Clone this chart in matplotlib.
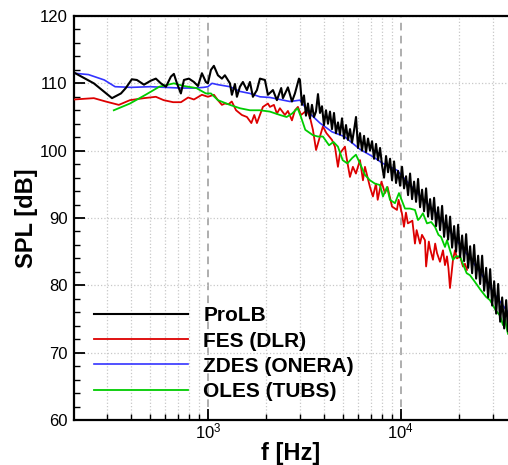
import numpy as np
import matplotlib
matplotlib.use('Agg')
import matplotlib.pyplot as plt
from matplotlib.ticker import LogLocator, MultipleLocator, NullFormatter

plt.rcParams['font.family'] = ['Liberation Sans', 'DejaVu Sans']
plt.rcParams['mathtext.fontset'] = 'custom'
plt.rcParams['mathtext.rm'] = 'Liberation Sans'
plt.rcParams['mathtext.it'] = 'Liberation Sans:italic'

# ProLB
f_prolb = [202, 256, 318, 354, 375, 403, 428, 466, 506, 537, 570, 606, 643, 666, 691, 724, 751,
           797, 846, 888, 931, 976, 1000, 1037, 1074, 1127, 1182, 1225, 1301, 1332, 1381, 1414,
           1466, 1519, 1594, 1652, 1712, 1796, 1862, 1976, 2048, 2175, 2280, 2400, 2450, 2601,
           2729, 2828, 2967,
           3003, 3076, 3150, 3226, 3304, 3384, 3466, 3550, 3636, 3724, 3814, 3906, 4001, 4098,
           4197, 4299, 4403, 4509, 4618, 4730, 4844, 4962, 5082, 5205, 5331, 5460, 5592, 5727,
           5866, 6008, 6153, 6302, 6455, 6611, 6771, 6935, 7103, 7275, 7451, 7631, 7816, 8005,
           8199, 8397, 8600, 8808, 9022, 9240, 9464, 9693, 9927, 10167, 10414, 10666, 10924,
           11188, 11459, 11736, 12020, 12311, 12609, 12914, 13227, 13547, 13875, 14211, 14555,
           14907, 15268, 15637, 16016, 16403, 16800, 17207, 17623, 18050, 18487, 18934, 19392,
           19862, 20342, 20835, 21339, 21855, 22384, 22926, 23481, 24049, 24631, 25227, 25838,
           26463, 27104, 27760, 28432, 29120, 29824, 30546, 31286, 32043, 32818, 33612, 34426,
           35259, 36040]
spl_prolb = [111.6, 110.0, 107.8, 108.5, 109.3, 110.6, 110.5, 109.8, 110.4, 110.7, 110.0, 109.5,
             111.0, 111.4, 110.0, 108.5, 110.5, 110.7, 110.2, 109.6, 111.5, 110.2, 110.0, 112.0,
             112.6, 111.2, 110.7, 111.2, 110.0, 108.3, 109.9, 108.0, 109.5, 110.2, 109.0, 110.2,
             108.0, 109.0, 110.7, 110.5, 108.3, 109.0, 107.5, 109.3, 107.8, 109.4, 107.3, 108.5,
             110.7,
             110.5, 106.8, 108.2, 105.2, 107.0, 104.8, 106.8, 105.0, 105.8, 108.4, 105.6, 106.6,
             103.8, 106.0, 104.0, 105.8, 103.2, 105.6, 102.6, 104.2, 102.4, 104.8, 101.8, 103.8,
             101.6, 103.2, 101.2, 103.0, 105.0, 100.4, 102.6, 100.0, 102.2, 99.8, 101.8, 100.0,
             101.4, 98.8, 101.0, 98.6, 100.4, 97.8, 96.0, 99.2, 96.8, 98.8, 95.6, 98.4, 95.2, 97.0,
             94.8, 97.6, 94.4, 96.2, 93.4, 96.6, 92.8, 95.4, 92.4, 95.8, 91.6, 94.2, 91.0, 94.4,
             90.2, 92.8, 89.8, 93.0, 88.8, 91.6, 88.2, 91.8, 87.2, 90.4, 86.8, 90.2, 85.6, 88.8,
             85.0, 89.0, 84.2, 87.4, 83.6, 87.6, 82.6, 85.8, 81.8, 86.0, 81.0, 84.4, 80.2, 84.4,
             79.2, 82.6, 78.2, 82.4, 77.0, 80.6, 75.8, 80.2, 74.6, 78.2, 73.6, 77.8, 73.2]

# FES (DLR)
f_fes = [202, 256, 295, 345, 394, 466, 537, 590, 660, 725, 790, 846, 931, 1000, 1075, 1127, 1182,
         1225, 1280, 1330, 1400, 1500, 1594, 1680, 1740, 1796, 1929, 2048, 2098, 2200, 2280, 2363,
         2509, 2601, 2729, 2828, 2930, 3040, 3264, 3382, 3506, 3640, 3813, 3950, 4120, 4401, 4560,
         4726, 4842, 5138, 5230, 5456, 5650, 5860, 6150, 6373, 6528, 6929, 7180, 7445, 7600, 7950,
         8289, 8550, 9020, 9566, 9750, 10150, 10400, 10650, 10900, 11500, 11860, 12100, 12600,
         12900, 13366, 13550, 14000, 14190, 14708, 15100, 15430, 15993, 16576, 16978, 17388,
         17700, 18023, 18400, 18680, 19133, 19595, 20310, 21051, 21560, 22083]
spl_fes = [107.6, 107.8, 107.3, 106.8, 107.5, 107.8, 108.0, 107.5, 107.2, 107.2, 107.9, 107.6,
           108.3, 108.0, 108.3, 107.5, 106.8, 107.0, 106.9, 107.3, 106.0, 105.3, 105.0, 104.1,
           105.3, 104.1, 106.5, 107.0, 106.5, 106.8, 105.5, 106.3, 105.3, 105.9, 104.5, 106.0,
           106.5, 105.3, 106.0, 105.0, 103.1, 100.1, 102.1, 103.6, 102.6, 101.6, 100.6, 97.6, 99.6,
           100.6, 99.1, 96.1, 97.6, 96.6, 98.6, 95.6, 97.6, 94.6, 93.2, 95.1, 92.7, 95.4, 93.7,
           94.6, 91.7, 91.2, 92.7, 90.7, 88.7, 90.8, 89.2, 89.6, 86.2, 88.2, 86.2, 87.5, 86.7,
           82.8, 86.5, 85.5, 83.8, 86.2, 84.8, 83.5, 85.2, 83.0, 84.3, 82.5, 79.6, 82.0, 83.8,
           85.2, 84.0, 84.3, 82.8, 83.2, 82.3]

# ZDES (ONERA)
f_zdes = [202, 240, 290, 330, 400, 500, 600, 720, 850, 950, 1000, 1050, 1127, 1301, 1466, 1652,
          1862, 2098, 2363, 2664, 3003, 3382, 3813, 4401, 5100, 6150, 7180, 8093, 9566, 10500,
          12590, 15000, 18023, 21560, 25790, 30120, 36040]
spl_zdes = [111.5, 111.3, 110.5, 109.5, 109.4, 109.5, 109.4, 109.3, 109.3, 109.4, 109.5, 110.0,
            109.8, 109.5, 108.8, 108.5, 108.0, 107.9, 107.6, 107.3, 107.5, 105.5, 104.1, 102.8,
            102.1, 100.2, 99.1, 98.1, 97.1, 95.8, 93.3, 91.0, 88.0, 85.0, 82.0, 79.0, 76.0]

# OLES (TUBS)
f_oles = [325, 394, 475, 560, 666, 751, 870, 976, 1037, 1127, 1301, 1466, 1652, 1862, 2098, 2363,
          2560, 2729, 2920, 3040, 3200, 3506, 3720, 3950, 4250, 4480, 4726, 5000, 5290, 5600,
          5860, 6150, 6528, 6929, 7357, 7808, 8093, 8490, 8800, 9341, 9800, 10525, 11172, 11860,
          12300, 12590, 13048, 13690, 14400, 15064, 15700, 16200, 16978, 17388, 18023, 18680,
          19400, 20310, 21300, 22000, 22888, 24290, 26000, 27700, 29060, 31100, 32750, 33940,
          34760, 35610, 36040]
spl_oles = [106.0, 107.0, 108.3, 109.5, 110.0, 109.6, 109.3, 108.5, 108.5, 107.5, 106.8, 106.3,
            106.0, 106.0, 105.8, 105.3, 105.0, 105.5, 106.3, 105.0, 103.1, 102.3, 102.1, 102.1,
            100.8, 101.3, 100.6, 98.6, 98.1, 98.9, 99.4, 98.1, 96.4, 95.6, 95.1, 94.9, 93.2, 94.6,
            92.7, 92.2, 93.7, 91.4, 91.4, 91.2, 89.7, 90.0, 90.7, 89.2, 89.4, 88.7, 87.5, 87.2,
            85.7, 86.7, 85.2, 83.8, 84.3, 84.3, 82.8, 81.8, 81.5, 80.5, 79.3, 78.3, 77.8, 76.3,
            75.5, 74.1, 75.0, 73.4, 72.8]

fig = plt.figure(figsize=(5.08, 4.65), dpi=100)
ax = fig.add_axes([74 / 508, 45 / 465, 434 / 508, 404 / 465])

ax.plot(f_fes, spl_fes, color='#dd0000', lw=1.3, label='FES (DLR)', zorder=3)
ax.plot(f_zdes, spl_zdes, color='#3333ff', lw=1.2, label='ZDES (ONERA)', zorder=3)
ax.plot(f_oles, spl_oles, color='#00cc00', lw=1.3, label='OLES (TUBS)', zorder=4)
ax.plot(f_prolb, spl_prolb, color='black', lw=1.5, label='ProLB', zorder=5)

ax.set_xscale('log')
ax.set_xlim(202, 36040)
ax.set_ylim(60, 120)

ax.set_xticks([1e3, 1e4])
ax.set_xticklabels(['$10^3$', '$10^4$'])
ax.xaxis.set_minor_locator(LogLocator(base=10, subs=np.arange(2, 10)))
ax.xaxis.set_minor_formatter(NullFormatter())
ax.yaxis.set_major_locator(MultipleLocator(10))
ax.yaxis.set_minor_locator(MultipleLocator(2))

ax.tick_params(which='major', direction='in', length=8, width=1.3, labelsize=12)
ax.tick_params(which='minor', direction='in', length=4, width=1.0)
ax.tick_params(axis='x', which='major', pad=0.8)
ax.tick_params(axis='y', which='major', pad=4.5)
ax.tick_params(top=False, right=False)

ax.grid(which='major', axis='y', ls=':', color='#c8c8c8', lw=0.9)
ax.grid(which='minor', axis='x', ls=':', color='#c8c8c8', lw=0.9)
ax.grid(which='major', axis='x', ls=(0, (5, 3.5)), color='#999999', lw=1.1)

for s in ['left', 'bottom', 'top']:
    ax.spines[s].set_linewidth(1.6)
ax.spines['right'].set_visible(False)

ax.set_xlabel('f [Hz]', fontsize=17, fontweight='bold', labelpad=1)
ax.set_ylabel('SPL [dB]', fontsize=17, fontweight='bold', labelpad=1)

handles, labels = ax.get_legend_handles_labels()
order = [3, 0, 1, 2]
leg = ax.legend([handles[i] for i in order], [labels[i] for i in order],
                loc='lower left', bbox_to_anchor=(0.046, 0.047), frameon=False,
                prop={'weight': 'bold', 'size': 15}, handlelength=4.5,
                handletextpad=0.75, labelspacing=0.3, borderpad=0, borderaxespad=0)

fig.savefig('out.png', dpi=100)
